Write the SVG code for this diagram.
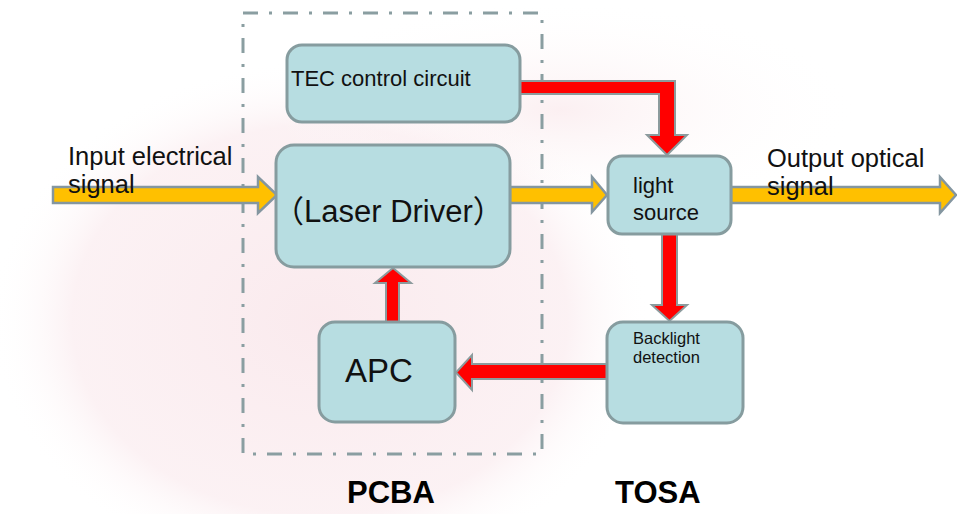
<svg xmlns="http://www.w3.org/2000/svg" width="957" height="514" viewBox="0 0 957 514">
<style>
.box{fill:#b7dde1;stroke:#869c9f;stroke-width:3}
.red{fill:#ff0000;stroke:#8c9b9d;stroke-width:2;stroke-linejoin:miter}
.yel{fill:#ffc000;stroke:#8496a0;stroke-width:2.5}
.t{font-family:"Liberation Sans",Arial,"Noto Sans CJK SC",sans-serif;fill:#111}
.lbl{font-family:"Liberation Sans",Arial,sans-serif;fill:#000;font-weight:bold;font-size:31px}
</style>
<defs>
<radialGradient id="bg" cx="0.5" cy="0.5" r="0.5">
<stop offset="0" stop-color="#f6d9df" stop-opacity="0.55"/>
<stop offset="0.75" stop-color="#f8e1e6" stop-opacity="0.45"/>
<stop offset="1" stop-color="#ffffff" stop-opacity="0"/>
</radialGradient>
<radialGradient id="bg2" cx="0.5" cy="0.5" r="0.5">
<stop offset="0" stop-color="#f8e0e4" stop-opacity="0.5"/>
<stop offset="1" stop-color="#ffffff" stop-opacity="0"/>
</radialGradient>
</defs>
<rect width="957" height="514" fill="#ffffff"/>
<ellipse cx="320" cy="320" rx="330" ry="260" fill="url(#bg)"/>
<ellipse cx="560" cy="110" rx="300" ry="110" fill="url(#bg2)"/>

<g id="pcba-boundary">
<rect x="243" y="13" width="299" height="441" fill="none" stroke="#8a9ea1" stroke-width="3" stroke-dasharray="15 11 3 11"/>
</g>

<g id="connectors">
<polygon class="yel" points="53,187 258,187 258,177 277,195 258,213 258,203 53,203"/>
<polygon class="yel" points="510,187 592,187 592,177 607,195 592,212 592,203 510,203"/>
<polygon class="yel" points="731,187 940,187 940,177 956,195 940,213 940,203 731,203"/>
<polygon class="red" points="520,81 675,81 675,135 687,135 667,155 647,135 659,135 659,94 520,94"/>
<polygon class="red" points="662,234 677,234 677,305 687,305 669.5,321 652,305 662,305"/>
<polygon class="red" points="607,364 472,364 472,355 456,372.5 472,390 472,379 607,379"/>
<polygon class="red" points="386,322 386,283 375,283 393,268 411,283 399,283 399,322"/>
</g>

<g id="tec">
<rect class="box" x="287" y="45" width="233" height="77" rx="15"/>
<text class="t" x="291" y="86" font-size="22">TEC control circuit</text>
</g>

<g id="laser-driver">
<rect class="box" x="276" y="145" width="234" height="122" rx="18"/>
<text class="t" x="273" y="222" font-size="31">（Laser Driver）</text>
</g>

<g id="apc">
<rect class="box" x="319" y="322" width="136" height="100" rx="16"/>
<text class="t" x="345" y="382" font-size="33">APC</text>
</g>

<g id="light-source">
<rect class="box" x="608" y="156" width="123" height="78" rx="14"/>
<text class="t" x="633" y="193" font-size="22">light</text>
<text class="t" x="633" y="220" font-size="22">source</text>
</g>

<g id="backlight-detection">
<rect class="box" x="607" y="322" width="136" height="101" rx="16"/>
<text class="t" x="633" y="344" font-size="16.5">Backlight</text>
<text class="t" x="633" y="363" font-size="16.5">detection</text>
</g>

<g id="labels">
<text class="t" x="68" y="165" font-size="25.5">Input electrical</text>
<text class="t" x="68" y="193" font-size="25.5">signal</text>
<text class="t" x="767" y="167" font-size="25.5">Output optical</text>
<text class="t" x="767" y="195" font-size="25.5">signal</text>
<text class="lbl" x="347" y="503">PCBA</text>
<text class="lbl" x="615" y="503">TOSA</text>
</g>
</svg>
